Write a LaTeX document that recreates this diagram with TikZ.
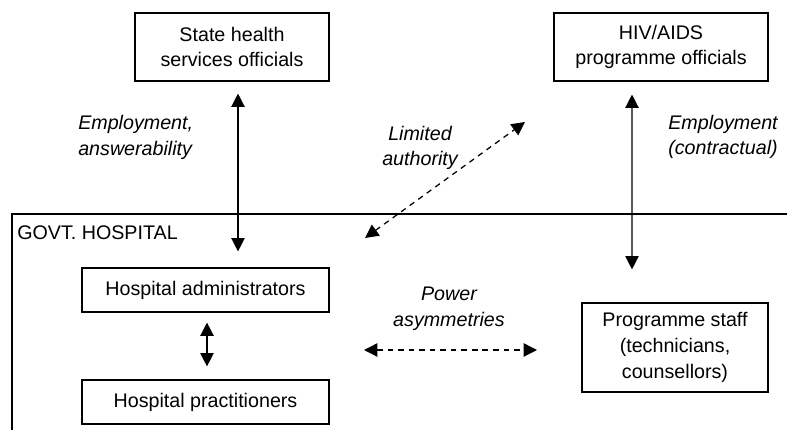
\documentclass[tikz,border=0pt]{standalone}
\usepackage{fontspec}
\setmainfont{Liberation Sans}
\usetikzlibrary{arrows.meta}
\tikzstyle{box}=[draw, line width=0.8pt, align=center, inner sep=0pt, font=\fontsize{14}{18.2}\selectfont]
\tikzstyle{link}=[{Triangle[length=9.5pt,width=9.5pt]}-{Triangle[length=9.5pt,width=9.5pt]}, line width=0.9pt]
\tikzstyle{weak}=[link, dash pattern=on 4pt off 3.5pt]
\tikzstyle{caption}=[font=\fontsize{14}{18.2}\selectfont\itshape, inner sep=0pt]

\begin{document}
\begin{tikzpicture}
  \useasboundingbox (0,0) rectangle (19.675,10.75);
  %% Hospital frame
  \draw[line width=0.8pt] (0.3,0) -- (0.3,5.4) -- (19.675,5.4);
  \draw (0.425,4.925) node[anchor=west, inner sep=0pt, font=\fontsize{14}{18.2}\selectfont] (govt) {GOVT. HOSPITAL};

  \draw (5.8,9.575) node[box, minimum width=4.85cm, minimum height=1.7cm] (state) {State health\\services officials};
  \draw (16.525,9.575) node[box, minimum width=5.35cm, minimum height=1.7cm] (hiv) {HIV/AIDS\\programme officials};
  \draw (5.1375,3.5) node[box, minimum width=6.175cm, minimum height=1.1cm] (admin) {Hospital administrators};
  \draw (5.1375,0.7) node[box, minimum width=6.175cm, minimum height=1.1cm] (pract) {Hospital practitioners};
  \draw (16.875,2.0625) node[box, minimum width=4.65cm, minimum height=2.225cm] (staff) {Programme staff\\(technicians,\\counsellors)};

  \coordinate (authA) at (9.125,4.8);
  \coordinate (authB) at (13.125,7.7);
  \coordinate (powA) at (9.1,2.0);
  \coordinate (powB) at (13.425,2.0);

  \draw[link] ([shift={(0.15,-0.3)}]state.south) -- ([shift={(0.8125,0.4)}]admin.north);
  \draw[link] ([shift={(-0.725,-0.325)}]hiv.south) -- ([shift={(-1.075,0.825)}]staff.north);
  \draw[link] ([shift={(0.0375,-0.25)}]admin.south) -- ([shift={(0.0375,0.325)}]pract.north);
  \draw[weak] (authA) -- (authB);
  \draw[weak] (powA) -- (powB);

  %% Labels
  \draw (1.95,7.3125) node[caption, anchor=west, align=left] (empA) {Employment,\\answerability};
  \draw (10.5,7.05) node[caption, align=center] (auth) {Limited\\authority};
  \draw (18.075,7.325) node[caption, align=left] (empB) {Employment\\(contractual)};
  \draw (11.225,3.025) node[caption, align=center] (pow) {Power\\asymmetries};
\end{tikzpicture}
\end{document}
